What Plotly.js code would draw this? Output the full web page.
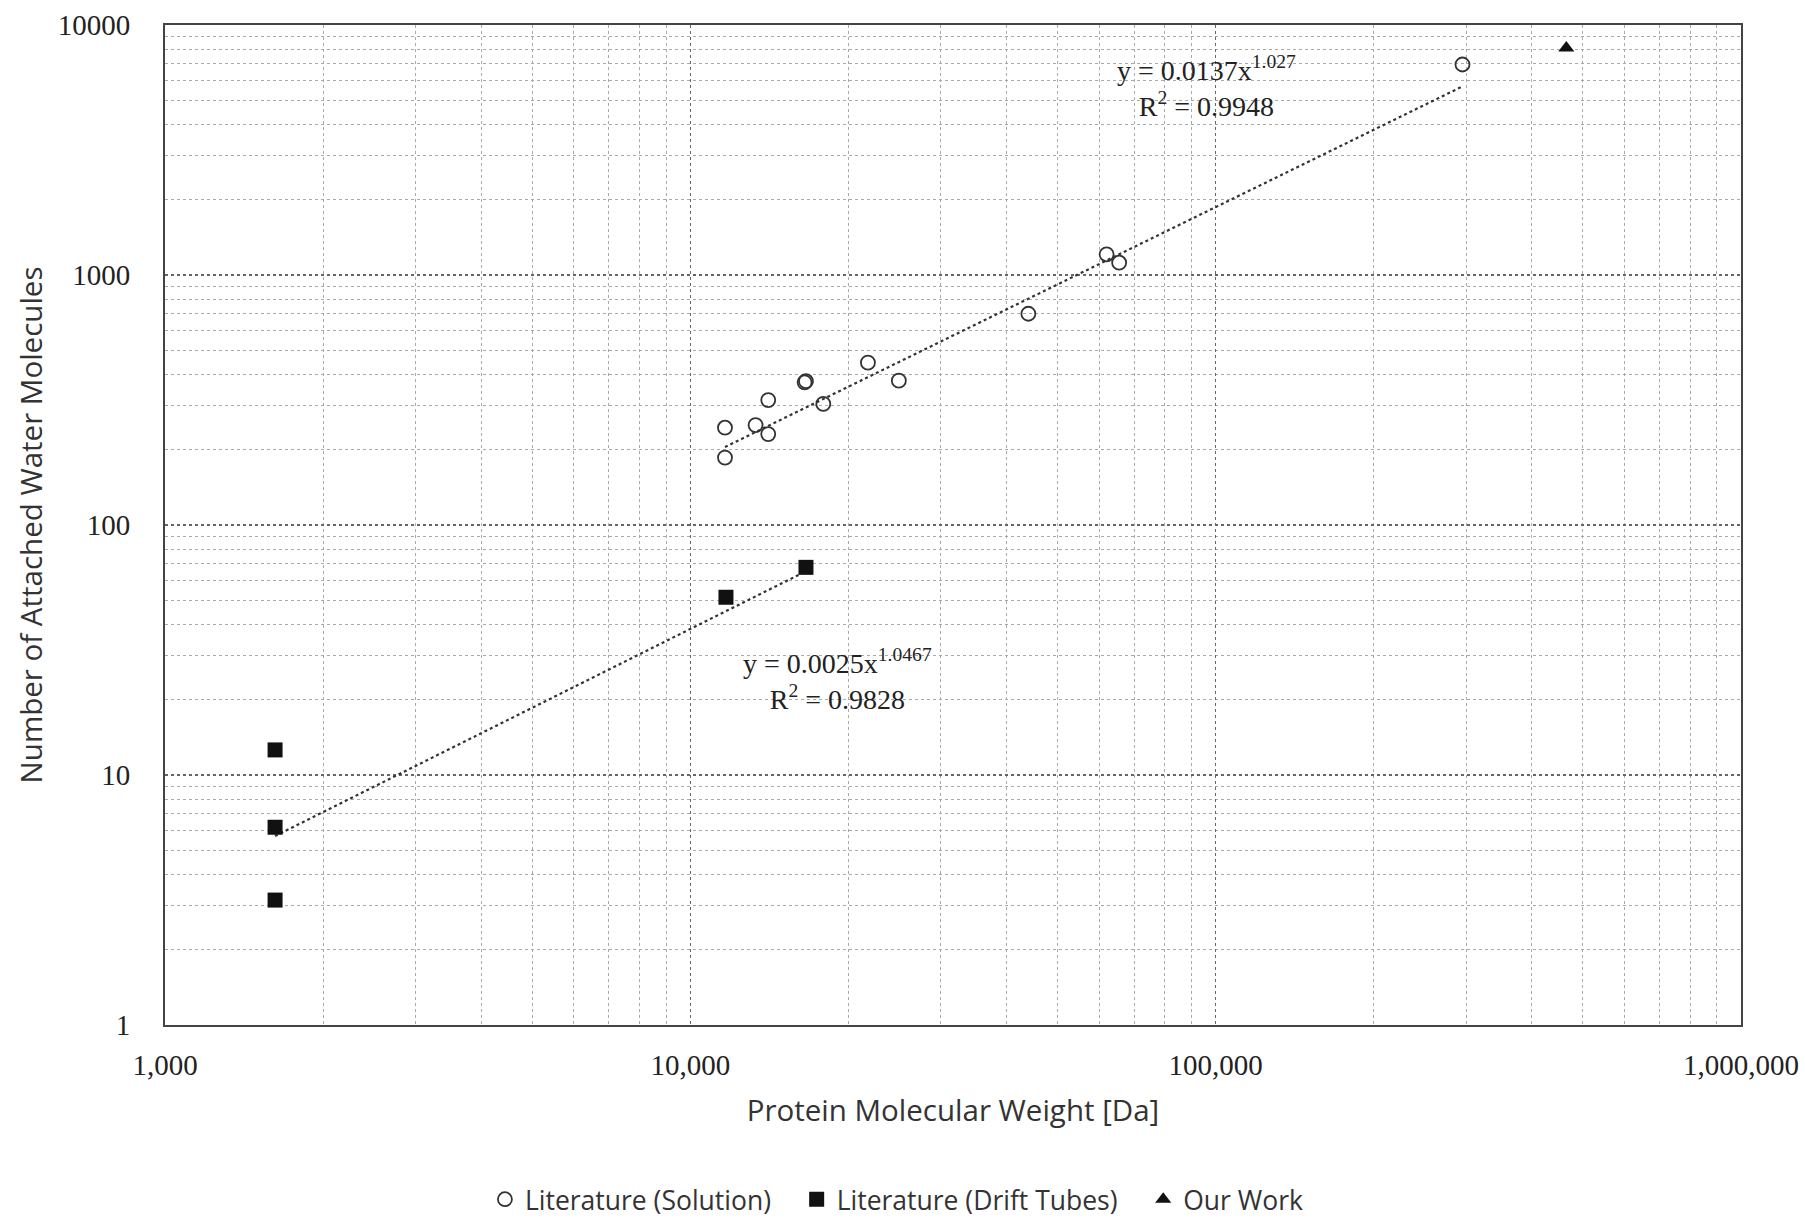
<!DOCTYPE html>
<html>
<head>
<meta charset="utf-8">
<script src="https://cdn.plot.ly/plotly-3.0.1.min.js"></script>
<style>
html,body{margin:0;padding:0;background:#fff;}
#chart{width:1805px;height:1219px;}
</style>
</head>
<body>
<div id="chart"></div>
<script>
// ---- data ----
const solutionMW    = [11640, 11640, 13310, 14070, 14070, 16500, 16600, 17910, 21780, 24940, 44000, 62000, 65500, 295000];
const solutionWater = [186,   245,   251,   231,   316,   372,   376,   305,   446,   378,   700,   1210,  1120,  6950];

const driftMW    = [1620, 1620, 1620, 11690, 16600];
const driftWater = [12.6, 6.18, 3.16, 51.4,  67.7];

const ourMW    = [465000];
const ourWater = [8100];

// trendline endpoints
const solFitMW    = [11640, 295000];
const solFitWater = [205,   5680];
const driftFitMW    = [1620, 16600];
const driftFitWater = [5.7,  65.3];

const xTickVals = [1000, 10000, 100000, 1000000];
const xTickText = ['1,000', '10,000', '100,000', '1,000,000'];
const yTickVals = [1, 10, 100, 1000, 10000];
const yTickText = ['1', '10', '100', '1000', '10000'];

const seriesNames = ['Literature (Solution)', 'Literature (Drift Tubes)', 'Our Work'];
const eqSolution = 'y = 0.0137x<sup>1.027</sup><br>R<sup>2</sup> = 0.9948';
const eqDrift    = 'y = 0.0025x<sup>1.0467</sup><br>R<sup>2</sup> = 0.9828';

const pad = '\u00a0\u00a0\u00a0';

// ---- traces ----
const traces = [
  {x: solFitMW, y: solFitWater, mode: 'lines', showlegend: false, hoverinfo: 'skip',
   line: {color: '#333', width: 2.2, dash: 'dot'}},
  {x: driftFitMW, y: driftFitWater, mode: 'lines', showlegend: false, hoverinfo: 'skip',
   line: {color: '#333', width: 2.2, dash: 'dot'}},
  {x: solutionMW, y: solutionWater, mode: 'markers', name: seriesNames[0] + pad,
   marker: {symbol: 'circle-open', size: 14, color: '#333', line: {width: 1.8, color: '#333'}}},
  {x: driftMW, y: driftWater, mode: 'markers', name: seriesNames[1] + pad,
   marker: {symbol: 'square', size: 15, color: '#111'}},
  {x: ourMW, y: ourWater, mode: 'markers', name: seriesNames[2],
   marker: {symbol: 'triangle-up', size: 14, color: '#111'}}
];

const tickFont = {family: 'Liberation Serif, DejaVu Serif, serif', size: 29, color: '#222'};
const titleFont = {family: 'Open Sans, Lato, sans-serif', size: 29.5, color: '#333'};

const layout = {
  width: 1805, height: 1219,
  paper_bgcolor: '#fff', plot_bgcolor: '#fff',
  margin: {l: 165, r: 64, t: 25, b: 194},
  showlegend: true,
  xaxis: {
    type: 'log', range: [3, 6], automargin: false,
    tickmode: 'array', tickvals: xTickVals, ticktext: xTickText,
    tickfont: tickFont, ticks: '', ticklabelstandoff: 13,
    showgrid: true, gridcolor: '#666', griddash: 'dot', gridwidth: 1.5,
    minor: {dtick: 'D1', showgrid: true, gridcolor: '#aaa', griddash: 'dot', gridwidth: 1},
    showline: true, linecolor: '#444', linewidth: 2, mirror: true,
    zeroline: false,
    title: {text: 'Protein Molecular Weight [Da]', font: titleFont, standoff: 21}
  },
  yaxis: {
    type: 'log', range: [0, 4], automargin: false,
    tickmode: 'array', tickvals: yTickVals, ticktext: yTickText,
    tickfont: tickFont, ticks: '', ticklabelstandoff: 27,
    showgrid: true, gridcolor: '#666', griddash: 'dot', gridwidth: 1.5,
    minor: {dtick: 'D1', showgrid: true, gridcolor: '#aaa', griddash: 'dot', gridwidth: 1},
    showline: true, linecolor: '#444', linewidth: 2, mirror: true,
    zeroline: false,
    title: {text: 'Number of Attached Water Molecules', font: titleFont, standoff: 6}
  },
  legend: {
    orientation: 'h', x: 0.203, xanchor: 'left',
    yref: 'container', y: 0.016, yanchor: 'middle',
    font: {family: 'Open Sans, Lato, sans-serif', size: 26.5, color: '#333'},
    itemwidth: 30, tracegroupgap: 0, bgcolor: 'rgba(0,0,0,0)'
  },
  annotations: [
    {xref: 'paper', yref: 'paper', x: 0.661, y: 0.939, text: eqSolution, showarrow: false,
     align: 'center', xanchor: 'center', yanchor: 'middle',
     font: {family: 'Liberation Serif, serif', size: 28, color: '#222'}},
    {xref: 'paper', yref: 'paper', x: 0.4264, y: 0.346, text: eqDrift, showarrow: false,
     align: 'center', xanchor: 'center', yanchor: 'middle',
     font: {family: 'Liberation Serif, serif', size: 28, color: '#222'}}
  ]
};

Plotly.newPlot('chart', traces, layout, {displayModeBar: false, staticPlot: true});
</script>
</body>
</html>
